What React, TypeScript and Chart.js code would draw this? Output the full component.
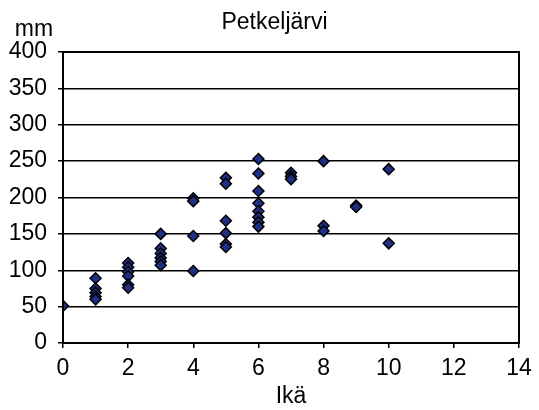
import React, { useEffect, useRef } from "react";
import { Chart, registerables } from "chart.js";

Chart.register(...registerables);

const chartTitle = "Petkeljärvi";
const yUnitLabel = "mm";
const xAxisLabel = "Ikä";

const ages0 = [0];
const len0 = [51];
const ages1 = [1, 1, 1, 1, 1];
const len1 = [89, 75, 69, 64, 60];
const ages2 = [2, 2, 2, 2, 2, 2];
const len2 = [110, 104, 98, 92, 80, 76];
const ages3 = [3, 3, 3, 3, 3, 3];
const len3 = [150, 130, 123, 117, 112, 107];
const ages4 = [4, 4, 4, 4];
const len4 = [199, 195, 147, 99];
const ages5 = [5, 5, 5, 5, 5, 5];
const len5 = [227, 219, 168, 151, 136, 132];
const ages6 = [6, 6, 6, 6, 6, 6, 6, 6];
const len6 = [253, 233, 209, 192, 181, 173, 166, 160];
const ages7 = [7, 7, 7];
const len7 = [234, 229, 225];
const ages8 = [8, 8, 8];
const len8 = [250, 161, 154];
const ages9 = [9, 9];
const len9 = [189, 187];
const ages10 = [10, 10];
const len10 = [239, 137];

const allAges = [ages0, ages1, ages2, ages3, ages4, ages5, ages6, ages7, ages8, ages9, ages10];
const allLens = [len0, len1, len2, len3, len4, len5, len6, len7, len8, len9, len10];

const FONT = "'Liberation Sans', Arial, sans-serif";

export default function App() {
  const ref = useRef<HTMLCanvasElement>(null);

  useEffect(() => {
    document.body.style.margin = "0";
    const points: { x: number; y: number }[] = [];
    allAges.forEach((arr, i) => arr.forEach((a, j) => points.push({ x: a, y: allLens[i][j] })));

    const overlay = {
      id: "overlay",
      afterDatasetsDraw(chart: any) {
        const { ctx, chartArea } = chart;
        ctx.save();
        ctx.strokeStyle = "#000";
        ctx.lineWidth = 2;
        ctx.strokeRect(chartArea.left, chartArea.top, chartArea.right - chartArea.left, chartArea.bottom - chartArea.top);
        ctx.fillStyle = "#000";
        ctx.font = `23px ${FONT}`;
        ctx.textAlign = "center";
        ctx.textBaseline = "alphabetic";
        ctx.fillText(chartTitle, 274.5, 29);
        ctx.fillText(yUnitLabel, 34, 36);
        ctx.restore();
      },
    };

    const chart = new Chart(ref.current!, {
      type: "scatter",
      data: {
        datasets: [
          {
            data: points,
            pointStyle: "rectRot",
            pointRadius: 5.5,
            pointBackgroundColor: "#1f2f84",
            pointBorderColor: "#000",
            pointBorderWidth: 1.5,
          },
        ],
      },
      options: {
        animation: false,
        responsive: false,
        layout: { padding: { top: 52, right: 20, left: 0, bottom: 0 } },
        plugins: { legend: { display: false }, tooltip: { enabled: false }, title: { display: false } },
        scales: {
          x: {
            type: "linear",
            min: 0,
            max: 14,
            afterFit: (s: any) => { s.height = 67; },
            ticks: { stepSize: 2, color: "#000", font: { family: FONT, size: 23 }, padding: 7 },
            grid: { drawOnChartArea: false, drawTicks: true, tickLength: 5, color: "#000", lineWidth: 1.5 },
            border: { color: "#000", width: 2 },
            title: { display: true, text: xAxisLabel, color: "#000", font: { family: FONT, size: 23 }, padding: { top: 0, bottom: 0 } },
          },
          y: {
            min: 0,
            max: 400,
            afterFit: (s: any) => { s.width = 63; },
            ticks: { stepSize: 50, color: "#000", font: { family: FONT, size: 23 }, padding: 11 },
            grid: { color: "#000", lineWidth: 1.5, tickLength: 5 },
            border: { color: "#000", width: 2 },
          },
        },
      },
      plugins: [overlay],
    });
    return () => chart.destroy();
  }, []);

  return (
    <div style={{ width: 539, height: 410 }}>
      <canvas ref={ref} width={539} height={410} />
    </div>
  );
}
